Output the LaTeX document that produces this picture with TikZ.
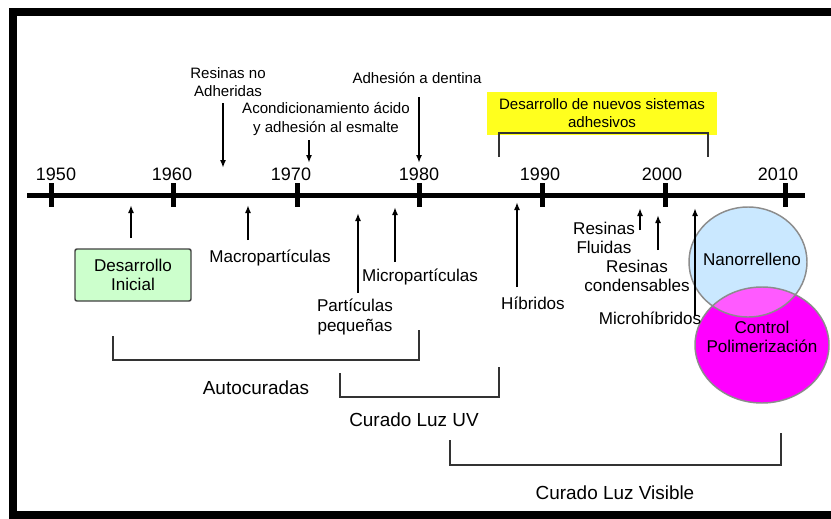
\documentclass[tikz,border=0pt]{standalone}
\usepackage{fontspec}
\setmainfont{Liberation Sans}
\usetikzlibrary{arrows.meta}
\definecolor{inicialGreen}{RGB}{204,255,204}
\definecolor{adhesivoYellow}{RGB}{255,255,30}
\definecolor{nanoBlue}{RGB}{202,232,255}
\definecolor{controlMagenta}{RGB}{255,0,255}
\definecolor{overlapPink}{RGB}{255,90,255}
\begin{document}
\begin{tikzpicture}[x=0.75pt, y=-0.75pt,
    topLbl/.style={align=center, inner sep=0pt, font=\fontsize{11.3}{13.6}\selectfont},
    lbl/.style={align=center, inner sep=0pt, font=\fontsize{12.8}{14.8}\selectfont},
    spanLbl/.style={inner sep=0pt, font=\fontsize{14.2}{16}\selectfont},
    yearLbl/.style={inner sep=0pt, font=\fontsize{13.5}{16}\selectfont},
    arr/.style={line width=1.5pt, -{Latex[length=6pt, width=4.5pt]}},
    bracket/.style={line width=1.1pt, draw=black!80},
    edge/.style={line width=1.1pt, draw=black!45}]
    \useasboundingbox (0,0) rectangle (831,518);
    \draw[line width=6pt] (831,12) -- (13,12) -- (13,515) -- (831,515);

    % time line
    \draw[line width=3.75pt] (27,195) -- (805,195);
    \draw[line width=3.75pt] (51,183) -- (51,207);
    \draw[line width=3.75pt] (173,183) -- (173,207);
    \draw[line width=3.75pt] (297,183) -- (297,207);
    \draw[line width=3.75pt] (419,183) -- (419,207);
    \draw[line width=3.75pt] (542,183) -- (542,207);
    \draw[line width=3.75pt] (665,183) -- (665,207);
    \draw[line width=3.75pt] (785,183) -- (785,207);
    \node[yearLbl] at (56,174.5) (year1950) {1950};
    \node[yearLbl] at (172,174.5) (year1960) {1960};
    \node[yearLbl] at (291,174.5) (year1970) {1970};
    \node[yearLbl] at (419,174.5) (year1980) {1980};
    \node[yearLbl] at (540,174.5) (year1990) {1990};
    \node[yearLbl] at (662,174.5) (year2000) {2000};
    \node[yearLbl] at (778,174.5) (year2010) {2010};

    % above the line
    \node[topLbl] at (228,82) (noAdhLabel) {Resinas no\\Adheridas};
    \node[topLbl] at (326,119) (acondLabel) {Acondicionamiento ácido\\y adhesión al esmalte};
    \node[topLbl] at (417,78) (dentinaLabel) {Adhesión a dentina};
    \node[topLbl, fill=adhesivoYellow, minimum width=172.5pt, minimum height=32.25pt] at (602,113.5) (adhesivoBox) {Desarrollo de nuevos sistemas\\adhesivos};
    \draw[bracket] (499,157) -- (499,133) -- (708,133) -- (708,157);
    \coordinate (noAdhTop) at (223,103); \coordinate (noAdhTip) at (223,168);
    \coordinate (acondTop) at (309,140); \coordinate (acondTip) at (309,163);
    \coordinate (dentinaTop) at (419,97); \coordinate (dentinaTip) at (419,163);
    \draw[arr] (noAdhTop) -- (noAdhTip);
    \draw[arr] (acondTop) -- (acondTip);
    \draw[arr] (dentinaTop) -- (dentinaTip);

    % circles
    \fill[nanoBlue] (748,262) ellipse [x radius=59, y radius=55];
    \fill[controlMagenta] (762,345) ellipse [x radius=67, y radius=58];
    \begin{scope}
        \clip (762,345) ellipse [x radius=67, y radius=58];
        \fill[overlapPink] (748,262) ellipse [x radius=59, y radius=55];
    \end{scope}
    \draw[edge] (748,262) ellipse [x radius=59, y radius=55];
    \draw[edge] (762,345) ellipse [x radius=67, y radius=58];
    \node[lbl] at (752,259) (nanoLabel) {Nanorrelleno};
    \node[lbl] at (762,337) (controlLabel) {Control\\Polimerización};

    % below the line
    \node[lbl, draw=black!75, line width=1.1pt, fill=inicialGreen, rounded corners=1.5pt, minimum width=87pt, minimum height=39pt] at (133,275) (inicialBox) {Desarrollo\\Inicial};
    \node[lbl] at (270,258) (macroLabel) {Macropartículas};
    \node[lbl] at (355,317) (pequenasLabel) {Partículas\\pequeñas};
    \node[lbl] at (420,277) (microLabel) {Micropartículas};
    \node[lbl] at (533,303) (hibridosLabel) {Híbridos};
    \node[lbl] at (604,238) (fluidasLabel) {Resinas\\Fluidas};
    \node[lbl] at (637,276) (condensLabel) {Resinas\\condensables};
    \node[lbl] at (650,318) (microhibLabel) {Microhíbridos};
    \coordinate (inicialFoot) at (131,238); \coordinate (inicialTip) at (131,205);
    \coordinate (macroFoot) at (248,240); \coordinate (macroTip) at (248,205);
    \coordinate (pequenasFoot) at (358,293); \coordinate (pequenasTip) at (358,213);
    \coordinate (microFoot) at (395,262); \coordinate (microTip) at (395,207);
    \coordinate (hibridosFoot) at (517,287); \coordinate (hibridosTip) at (517,202);
    \coordinate (fluidasFoot) at (640,230); \coordinate (fluidasTip) at (640,208);
    \coordinate (condensFoot) at (658,250); \coordinate (condensTip) at (658,215);
    \coordinate (microhibFoot) at (695,316); \coordinate (microhibTip) at (695,208);
    \draw[arr] (inicialFoot) -- (inicialTip);
    \draw[arr] (macroFoot) -- (macroTip);
    \draw[arr] (pequenasFoot) -- (pequenasTip);
    \draw[arr] (microFoot) -- (microTip);
    \draw[arr] (hibridosFoot) -- (hibridosTip);
    \draw[arr] (fluidasFoot) -- (fluidasTip);
    \draw[arr] (condensFoot) -- (condensTip);
    \draw[arr] (microhibFoot) -- (microhibTip);

    % curing periods
    \draw[bracket] (113,336) -- (113,360) -- (419,360) -- (419,330);
    \draw[bracket] (340,373) -- (340,397) -- (499,397) -- (499,367);
    \draw[bracket] (450,440) -- (450,465) -- (781,465) -- (781,433);
    \node[spanLbl] at (256,388) (autoLabel) {Autocuradas};
    \node[spanLbl] at (414,420) (uvLabel) {Curado Luz UV};
    \node[spanLbl] at (615,493) (visibleLabel) {Curado Luz Visible};
\end{tikzpicture}
\end{document}
